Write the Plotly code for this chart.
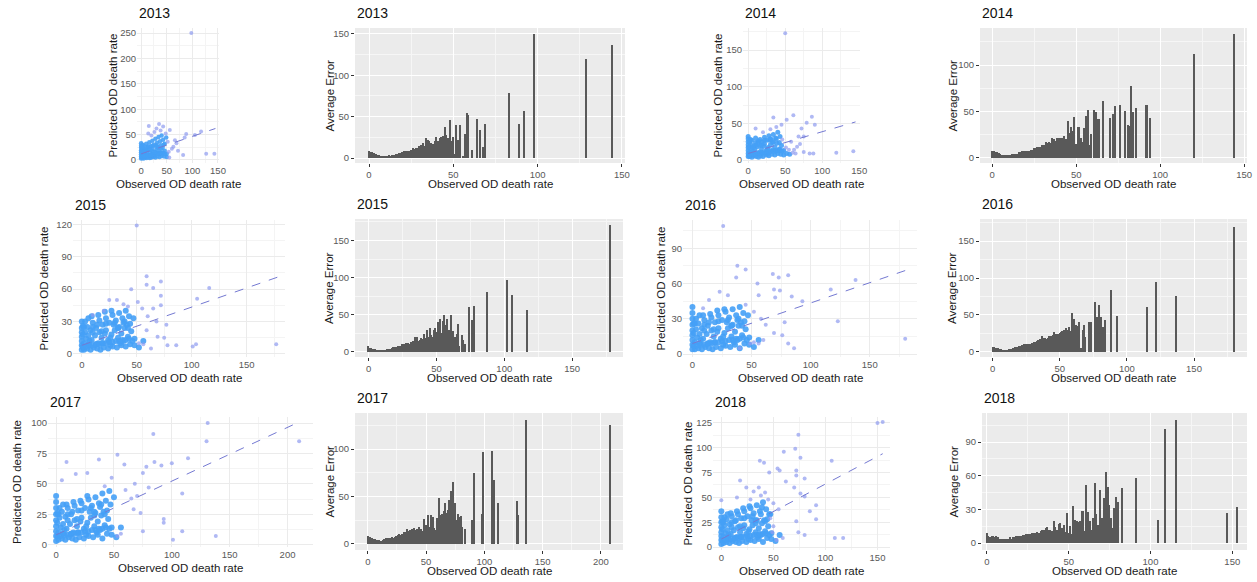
import plotly.graph_objects as go

W, H = 1257, 582

# ---------------- scatter data: observed vs predicted OD death rate ----------------
# dense cloud of counties
obs_core_2013 = [0,0,0,0,0,0,0,0, 2,5,8,11,14,17,20,24,28,32,36,40,45,50,
                 2,4,6,9,12,15,18,21,24,27,30,33,36,39,42,46,50,
                 3,5,8,10,13,16,19,22,25,28,31,34,37,40,43,46,49,
                 1,3,7,10,13,16,19,22,26,29,33,38,44,
                 1,4,7,10,13,16,19,22,25,28,31,34,37,40,43,
                 2,6,10,14,18,22,26,30,34,38,42,46]
pred_core_2013 = [3,7,11,15,19,24,28,33, 4,3,5,4,6,4,5,6,5,7,6,8,7,6,
                  10,15,9,13,17,10,14,18,12,16,20,13,17,22,14,18,12,
                  22,28,20,32,25,35,27,38,30,42,34,45,37,48,40,32,44,
                  18,30,12,20,9,20,10,22,8,27,24,12,30,
                  7,7,8,8,9,9,10,10,11,11,12,12,13,13,14,
                  25,17,25,27,21,28,15,29,25,29,24,12]
# scattered counties
obs_out_2013 = [14,20,26,30,35,43,15,38,48,52, 54,63,66,69,56,82,85,88,105,117,98,127,143,60,72,55]
pred_out_2013 = [52,48,55,62,71,66,67,58,52,36, 16,26,39,33,59,10,44,51,49,56,250,12,12,22,18,5]

obs_core_2014 = [0,0,0,0,0,0,0,0, 2,5,8,11,14,17,20,24,28,32,36,40,44,48,52,56,
                 2,4,6,9,12,15,18,21,24,27,30,33,36,39,42,45,48,
                 3,5,8,10,13,16,19,22,25,28,31,34,37,40,43,
                 1,3,7,10,13,16,19,22,26,29,33,38,
                 1,4,7,10,13,16,19,22,25,28,31,34,37,40,43,
                 2,6,10,14,18,22,26,30,34,38,42,46]
pred_core_2014 = [5,9,13,17,21,25,29,32, 5,4,6,5,4,6,5,7,6,8,7,9,8,7,9,8,
                  11,16,10,14,18,11,15,19,13,17,21,14,18,23,15,20,13,
                  22,27,20,30,24,28,25,31,27,33,28,35,30,38,32,
                  18,28,12,20,9,20,10,22,8,27,24,12,
                  7,7,8,8,9,9,10,10,11,11,12,12,13,13,14,
                  25,17,24,26,21,27,15,29,25,29,24,12]
obs_out_2014 = [10,20,30,38,45,34,52,46,51,55,60,64,
                50,61,86,79,90,72,68,75,66,75,83,88,119,142,58,62,70]
pred_out_2014 = [43,38,42,45,48,58,55,28,17,14,10,9,
                 173,61,59,51,48,43,32,32,18,11,9,9,10,12,25,14,22]

obs_core_2015 = [0,0,0,0,0,0,0, 2,5,8,11,14,17,20,24,28,32,36,40,44,48,
                 2,4,6,9,12,15,18,21,24,27,30,33,36,39,42,45,48,
                 3,5,8,10,13,16,19,22,25,28,31,34,37,40,43,
                 1,3,7,10,13,16,19,22,26,29,33,38,44,1,1,6,35,41,47,
                 1,4,7,10,13,16,19,22,25,28,31,34,37,40,43,
                 2,6,10,14,18,22,26,30,34,38,42,46, 9,15,21,27,33,39, 52,56]
pred_core_2015 = [4,8,12,16,20,24,30, 4,5,4,6,5,4,6,5,7,6,8,7,9,8,
                  10,14,9,13,17,10,15,19,13,18,22,15,19,24,16,21,14,
                  20,25,22,29,24,31,27,33,29,36,31,38,33,40,35,
                  18,30,12,20,9,20,10,22,8,27,24,12,28,6,26,33,10,27,33,
                  7,7,8,8,9,9,10,10,11,11,12,12,13,13,14,
                  25,17,25,27,21,28,15,29,25,29,24,12, 35,36,39,40,24,30, 6,12]
obs_out_2015 = [10,20,25,32,38,45,42,51,55,52,56,63,
                50,59,59,65,72,72,65,72,75,77,78,86,101,104,105,116,177,59,69,60,68]
pred_out_2015 = [36,40,50,50,46,60,44,48,42,10,9,5,
                 119,72,64,61,67,54,42,45,15,27,8,8,7,9,51,61,9,22,16,35,30]

obs_core_2016 = [0,0,0,0,0,0,0,0,0, 2,5,8,11,14,17,20,24,28,32,36,40,44,48,
                 2,4,6,9,12,15,18,21,24,27,30,33,36,39,42,45,48,
                 3,5,8,10,13,16,19,22,25,28,31,34,37,40,43,
                 1,3,7,10,13,16,19,22,26,29,33,38,44,1,6,35,41,47,
                 1,4,7,10,13,16,19,22,25,28,31,34,37,40,43,
                 2,6,10,14,18,22,26,30,34,38,42,46, 9,15,21,27,33,39, 52,56]
pred_core_2016 = [4,8,12,16,20,25,30,35,40, 4,5,4,6,5,4,6,5,7,6,8,5,9,8,
                  10,14,9,13,17,10,15,19,13,18,22,15,19,24,16,21,14,
                  21,26,22,29,24,31,27,33,29,36,31,38,33,40,35,
                  18,30,12,20,9,20,10,22,8,27,24,12,28,26,33,10,27,33,
                  7,7,8,8,9,9,10,10,11,11,12,12,13,13,14,
                  26,17,25,27,21,28,15,29,25,29,24,12, 33,34,37,38,24,30, 6,12]
obs_out_2016 = [9,14,23,30,37,45,52,58,62,52,56,60,
                26,38,45,55,68,73,81,56,69,74,70,84,93,117,138,123,180,86,81,69,76,78,49,40]
pred_out_2016 = [39,46,53,50,65,42,36,30,25,10,9,12,
                 109,75,72,60,68,65,67,50,55,54,48,49,45,55,63,28,13,5,9,18,16,27,9,5]

obs_core_2017 = [0,0,0,0,0,0,0,0,0, 2,5,8,11,14,17,20,24,28,32,36,40,44,48,
                 2,4,6,9,12,15,18,21,24,27,30,33,36,39,42,45,48,
                 3,5,8,10,13,16,19,22,25,28,31,34,37,40,43,46,50,
                 1,3,7,10,13,16,19,22,26,29,33,38,44,1,6,35,41,47,
                 1,4,7,10,13,16,19,22,25,28,31,34,37,40,43,
                 2,6,10,14,18,22,26,30,34,38,42,46, 9,15,21,27,33,39, 52,56]
pred_core_2017 = [3,7,11,15,20,25,30,35,40, 4,5,4,6,5,4,6,5,7,6,8,5,9,8,
                  10,14,9,13,17,10,15,19,13,18,22,15,19,24,16,21,14,
                  22,27,23,30,25,32,28,34,30,37,32,39,34,42,36,44,39,
                  18,30,12,20,9,20,10,22,8,27,24,12,28,26,33,10,27,33,
                  7,7,8,8,9,9,10,10,11,11,12,12,13,13,14,
                  25,17,25,27,21,28,15,30,26,31,25,13, 33,35,36,40,27,33, 6,14]
obs_out_2017 = [5,17,27,9,37,53,59,48,60,65,68,42,53,56,
                131,130,210,84,85,100,114,91,78,75,109,93,93,109,101,138,80,70,73,67,75]
pred_out_2017 = [53,58,59,68,70,74,66,55,45,38,50,48,7,9,
                 100,85,85,91,68,67,71,65,64,59,42,21,18,11,4,7,47,40,26,29,11]

obs_core_2018 = [0,0,0,0,0,0,0,0, 2,5,8,11,14,17,20,24,28,32,36,40,44,48,
                 2,4,6,9,12,15,18,21,24,27,30,33,36,39,42,45,48,
                 3,5,8,10,13,16,19,22,25,28,31,34,37,40,43,46,
                 1,3,7,10,13,16,19,22,26,29,33,38,44,1,6,35,41,47,
                 1,4,7,10,13,16,19,22,25,28,31,34,37,40,43,
                 2,6,10,14,18,22,26,30,34,38,42,46, 9,15,21,27,33,39, 52,56]
pred_core_2018 = [3,7,11,15,20,25,30,36, 4,5,4,6,5,4,6,5,7,6,8,5,9,8,
                  10,14,9,13,17,10,15,19,13,18,22,15,19,24,16,21,14,
                  22,28,23,31,26,33,29,36,31,39,34,42,36,45,38,33,
                  18,30,12,20,9,20,10,22,8,27,24,12,28,26,33,10,27,33,
                  7,7,8,8,9,9,10,10,11,11,12,12,13,13,14,
                  25,17,25,27,21,29,16,31,27,33,26,12, 34,36,39,41,27,40, 6,12]
obs_out_2018 = [0,18,24,31,15,28,36,42,50,55,45,38,50,47,53,59,
                150,155,74,60,71,76,106,37,41,54,56,72,46,72,80,62,70,76,80,91,85,91,72,74,80,109,117,49]
pred_out_2018 = [47,67,60,56,50,48,60,55,44,38,48,52,21,29,7,9,
                 125,126,113,96,99,90,87,87,85,79,77,77,75,72,69,66,60,54,51,42,36,28,26,15,12,9,9,15]

# dashed linear fit lines (end points)
fit_x_2013, fit_y_2013 = [0, 145], [12, 62]
fit_x_2014, fit_y_2014 = [0, 145], [9, 52]
fit_x_2015, fit_y_2015 = [0, 178], [8, 71]
fit_x_2016, fit_y_2016 = [0, 180], [9, 71]
fit_x_2017, fit_y_2017 = [0, 208], [8, 100]
fit_x_2018, fit_y_2018 = [0, 155], [8, 94]

# ---------------- bar data: average error by observed rate ----------------
bin_2013 = list(range(0, 55)) + [56,57,58,59,61,64,66,68,69,83,89,92,98,129,144]
err_2013 = [8,7,7,6,5,4,4,3,3,3,3,3,4,3,4,4,5,5,6,6,7,8,8,9,9,10,12,11,12,12,
            14,16,18,15,24,22,20,18,17,21,26,20,24,25,27,38,28,24,46,21,26,5,40,22,40,
            3,29,54,52,10,47,34,13,41,78,41,57,150,120,137]

bin_2014 = list(range(0, 60)) + [61,62,63,64,66,70,72,73,76,79,81,82,83,84,86,92,94,120,144]
err_2014 = [8,7,6,6,5,4,3,3,3,3,3,3,4,4,4,4,6,6,7,7,7,8,8,9,9,11,11,12,12,12,
            14,14,17,16,17,16,21,20,18,21,21,22,22,24,20,40,27,33,29,44,15,33,33,22,17,32,45,52,14,26,
            52,50,42,42,61,43,47,56,57,51,35,34,78,49,54,57,43,112,134]

bin_2015 = list(range(0, 60)) + [61,62,64,65,66,67,69,70,71,74,76,78,87,102,106,117,178]
err_2015 = [8,5,5,4,4,4,3,3,3,3,3,3,3,3,4,4,4,5,6,7,7,6,8,8,8,10,10,11,12,12,
            11,13,12,14,20,15,20,14,16,18,17,24,19,30,20,32,22,20,30,32,27,40,34,44,26,42,50,36,44,30,
            49,28,20,24,37,8,22,16,10,61,43,62,80,97,77,57,171]

bin_2016 = list(range(0, 65)) + [66,67,68,69,72,73,76,77,78,79,80,81,82,84,88,93,115,122,137,180]
err_2016 = [7,6,5,5,5,4,4,3,3,3,3,3,4,4,4,5,5,6,6,7,8,8,9,10,10,10,10,10,11,12,
            12,13,14,15,16,18,17,21,19,19,18,19,21,22,22,23,27,24,22,24,26,27,28,29,28,32,30,33,28,52,
            27,45,37,35,40,
            5,30,36,20,40,40,68,27,47,63,36,47,33,43,84,49,61,95,75,169]

bin_2017 = list(range(0, 82)) + [83,89,91,98,99,107,108,112,128,129,136,208]
err_2017 = [8,7,7,6,6,5,5,4,4,4,4,3,3,4,5,5,6,6,5,6,6,7,6,7,8,8,9,10,9,10,
            9,12,10,12,16,14,15,15,16,14,17,15,16,15,18,12,16,14,26,16,20,17,30,18,30,18,28,17,15,27,
            16,48,16,30,32,35,43,33,27,36,46,56,38,65,40,43,25,31,20,28,29,18,
            16,25,75,32,97,98,67,43,45,30,131,125]

bin_2018 = list(range(0, 81)) + [83,91,105,109,116,147,153]
err_2018 = [9,6,5,6,6,5,6,5,4,4,4,4,4,4,5,4,5,5,6,6,6,6,7,7,8,8,8,8,9,9,
            9,10,9,11,12,12,13,14,12,12,11,20,14,12,17,18,13,16,10,27,9,15,8,33,21,20,19,20,29,29,
            11,52,28,20,12,22,54,26,16,47,22,22,40,63,50,34,22,13,31,41,37,
            49,58,21,102,110,27,32]

# ---------------- styling / layout configuration ----------------
FONT = "Liberation Sans, Arial, sans-serif"
CORE_COLOR = "#45a0f6"
OUT_COLOR = "#8f9bef"
BAR_COLOR = "#595959"
FIT_COLOR = "#7479d2"

scatter = {
    2013: (obs_core_2013, pred_core_2013, obs_out_2013, pred_out_2013, fit_x_2013, fit_y_2013),
    2014: (obs_core_2014, pred_core_2014, obs_out_2014, pred_out_2014, fit_x_2014, fit_y_2014),
    2015: (obs_core_2015, pred_core_2015, obs_out_2015, pred_out_2015, fit_x_2015, fit_y_2015),
    2016: (obs_core_2016, pred_core_2016, obs_out_2016, pred_out_2016, fit_x_2016, fit_y_2016),
    2017: (obs_core_2017, pred_core_2017, obs_out_2017, pred_out_2017, fit_x_2017, fit_y_2017),
    2018: (obs_core_2018, pred_core_2018, obs_out_2018, pred_out_2018, fit_x_2018, fit_y_2018),
}
bars = {
    2013: (bin_2013, err_2013), 2014: (bin_2014, err_2014), 2015: (bin_2015, err_2015),
    2016: (bin_2016, err_2016), 2017: (bin_2017, err_2017), 2018: (bin_2018, err_2018),
}

# kind, year, box (x0, x1, ytop, ybottom) px, xrange, yrange, xdtick, ydtick, y-title centre px, core marker size
panels = [
    ("s", 2013, (137, 219, 28, 163), [-8, 152], [-6, 260], 50, 50, 112, 4.5),
    ("b", 2013, (355, 625, 28, 163), [-8.3, 151.8], [-6, 157], 50, 50, 329, 0),
    ("s", 2014, (743, 860, 28, 163), [-7, 151], [-4, 180], 50, 50, 717, 5),
    ("b", 2014, (980, 1247, 28, 163), [-7.3, 151.7], [-5.4, 140], 50, 50, 952, 0),
    ("s", 2015, (73, 285, 220, 357), [-8, 185], [-2.8, 124], 50, 30, 43, 6),
    ("b", 2015, (355, 623, 219, 357), [-10, 187.5], [-7, 179], 50, 50, 329, 0),
    ("s", 2016, (683, 917, 220, 357), [-8, 190], [-2.5, 114], 50, 30, 660, 6),
    ("b", 2016, (980, 1247, 219, 357), [-9.5, 189.5], [-7, 180], 50, 50, 952, 0),
    ("s", 2017, (48, 313, 417, 547), [-7, 222], [-2, 105], 50, 25, 17, 6),
    ("b", 2017, (355, 623, 413, 550), [-11, 219], [-6.5, 138], 50, 50, 329, 0),
    ("s", 2018, (713, 890, 417, 550), [-8, 162], [-3, 131], 50, 25, 687, 6),
    ("b", 2018, (982, 1247, 413, 550), [-3, 159], [-6.2, 116], 50, 30, 953, 0),
]

fig = go.Figure()
layout = dict(
    width=W, height=H, margin=dict(l=0, r=0, t=0, b=0),
    paper_bgcolor="white", plot_bgcolor="rgba(0,0,0,0)",
    showlegend=False, font=dict(family=FONT, color="#1a1a1a"),
    shapes=[], annotations=[], bargap=0,
)

for i, (kind, year, box, xr, yr, dx, dy, ytx, csize) in enumerate(panels):
    n = i + 1
    sfx = "" if n == 1 else str(n)
    x0, x1, yt, yb = box
    if kind == "s":
        oc, pc, oo, po, fx, fy = scatter[year]
        fig.add_trace(go.Scatter(
            x=oc, y=pc, mode="markers", xaxis="x" + sfx, yaxis="y" + sfx,
            marker=dict(size=csize, color=CORE_COLOR, opacity=0.9, line=dict(width=0)),
            hoverinfo="skip"))
        fig.add_trace(go.Scatter(
            x=oo, y=po, mode="markers", xaxis="x" + sfx, yaxis="y" + sfx,
            marker=dict(size=4, color=OUT_COLOR, opacity=0.7, line=dict(width=0)),
            hoverinfo="skip"))
        fig.add_trace(go.Scatter(
            x=fx, y=fy, mode="lines", xaxis="x" + sfx, yaxis="y" + sfx,
            line=dict(color=FIT_COLOR, width=1, dash="dash"), hoverinfo="skip"))
        gc, mgc, ticks = "#EBEBEB", "#F4F4F4", ""
        ytitle = "Predicted OD death rate"
    else:
        bx, by = bars[year]
        fig.add_trace(go.Bar(
            x=bx, y=by, width=0.9, xaxis="x" + sfx, yaxis="y" + sfx,
            marker=dict(color=BAR_COLOR, line=dict(width=0)), hoverinfo="skip"))
        layout["shapes"].append(dict(
            type="rect", xref="x%s domain" % sfx, yref="y%s domain" % sfx,
            x0=0, x1=1, y0=0, y1=1, fillcolor="#EBEBEB", line=dict(width=0), layer="below"))
        gc, mgc, ticks = "#FFFFFF", "#F6F6F6", "outside"
        ytitle = "Average Error"

    common = dict(
        showgrid=True, gridcolor=gc, gridwidth=1, zeroline=False, showline=False,
        ticks=ticks, ticklen=3, tickcolor="#333333", tickwidth=1,
        tickfont=dict(size=9.5, color="#595959", family=FONT),
        tickmode="linear", tick0=0, automargin=False, fixedrange=True,
    )
    layout["xaxis" + sfx] = dict(
        common, domain=[x0 / W, x1 / W], range=xr, dtick=dx, anchor="y" + sfx,
        minor=dict(dtick=dx / 2, showgrid=True, gridcolor=mgc, gridwidth=0.6),
    )
    layout["yaxis" + sfx] = dict(
        common, domain=[1 - yb / H, 1 - yt / H], range=yr, dtick=dy, anchor="x" + sfx,
        minor=dict(dtick=dy / 2, showgrid=True, gridcolor=mgc, gridwidth=0.6),
    )
    # panel title
    layout["annotations"].append(dict(
        text=str(year), xref="x%s domain" % sfx, yref="y%s domain" % sfx,
        x=0, y=1, xanchor="left", yanchor="bottom", yshift=5, showarrow=False,
        font=dict(size=14, color="#111111", family=FONT)))
    # x-axis title
    layout["annotations"].append(dict(
        text="Observed OD death rate", xref="x%s domain" % sfx, yref="y%s domain" % sfx,
        x=0.5, y=0, xanchor="center", yanchor="middle", yshift=-21, showarrow=False,
        font=dict(size=11.5, color="#1a1a1a", family=FONT)))
    # y-axis title
    layout["annotations"].append(dict(
        text=ytitle, xref="paper", yref="y%s domain" % sfx, x=ytx / W, y=0.5,
        xanchor="center", yanchor="middle", textangle=-90, showarrow=False,
        font=dict(size=11.5, color="#1a1a1a", family=FONT)))

fig.update_layout(**layout)
fig.write_html("out.html", config={"displayModeBar": False},
               post_script="document.body.style.margin='0';document.body.style.overflow='hidden';")
